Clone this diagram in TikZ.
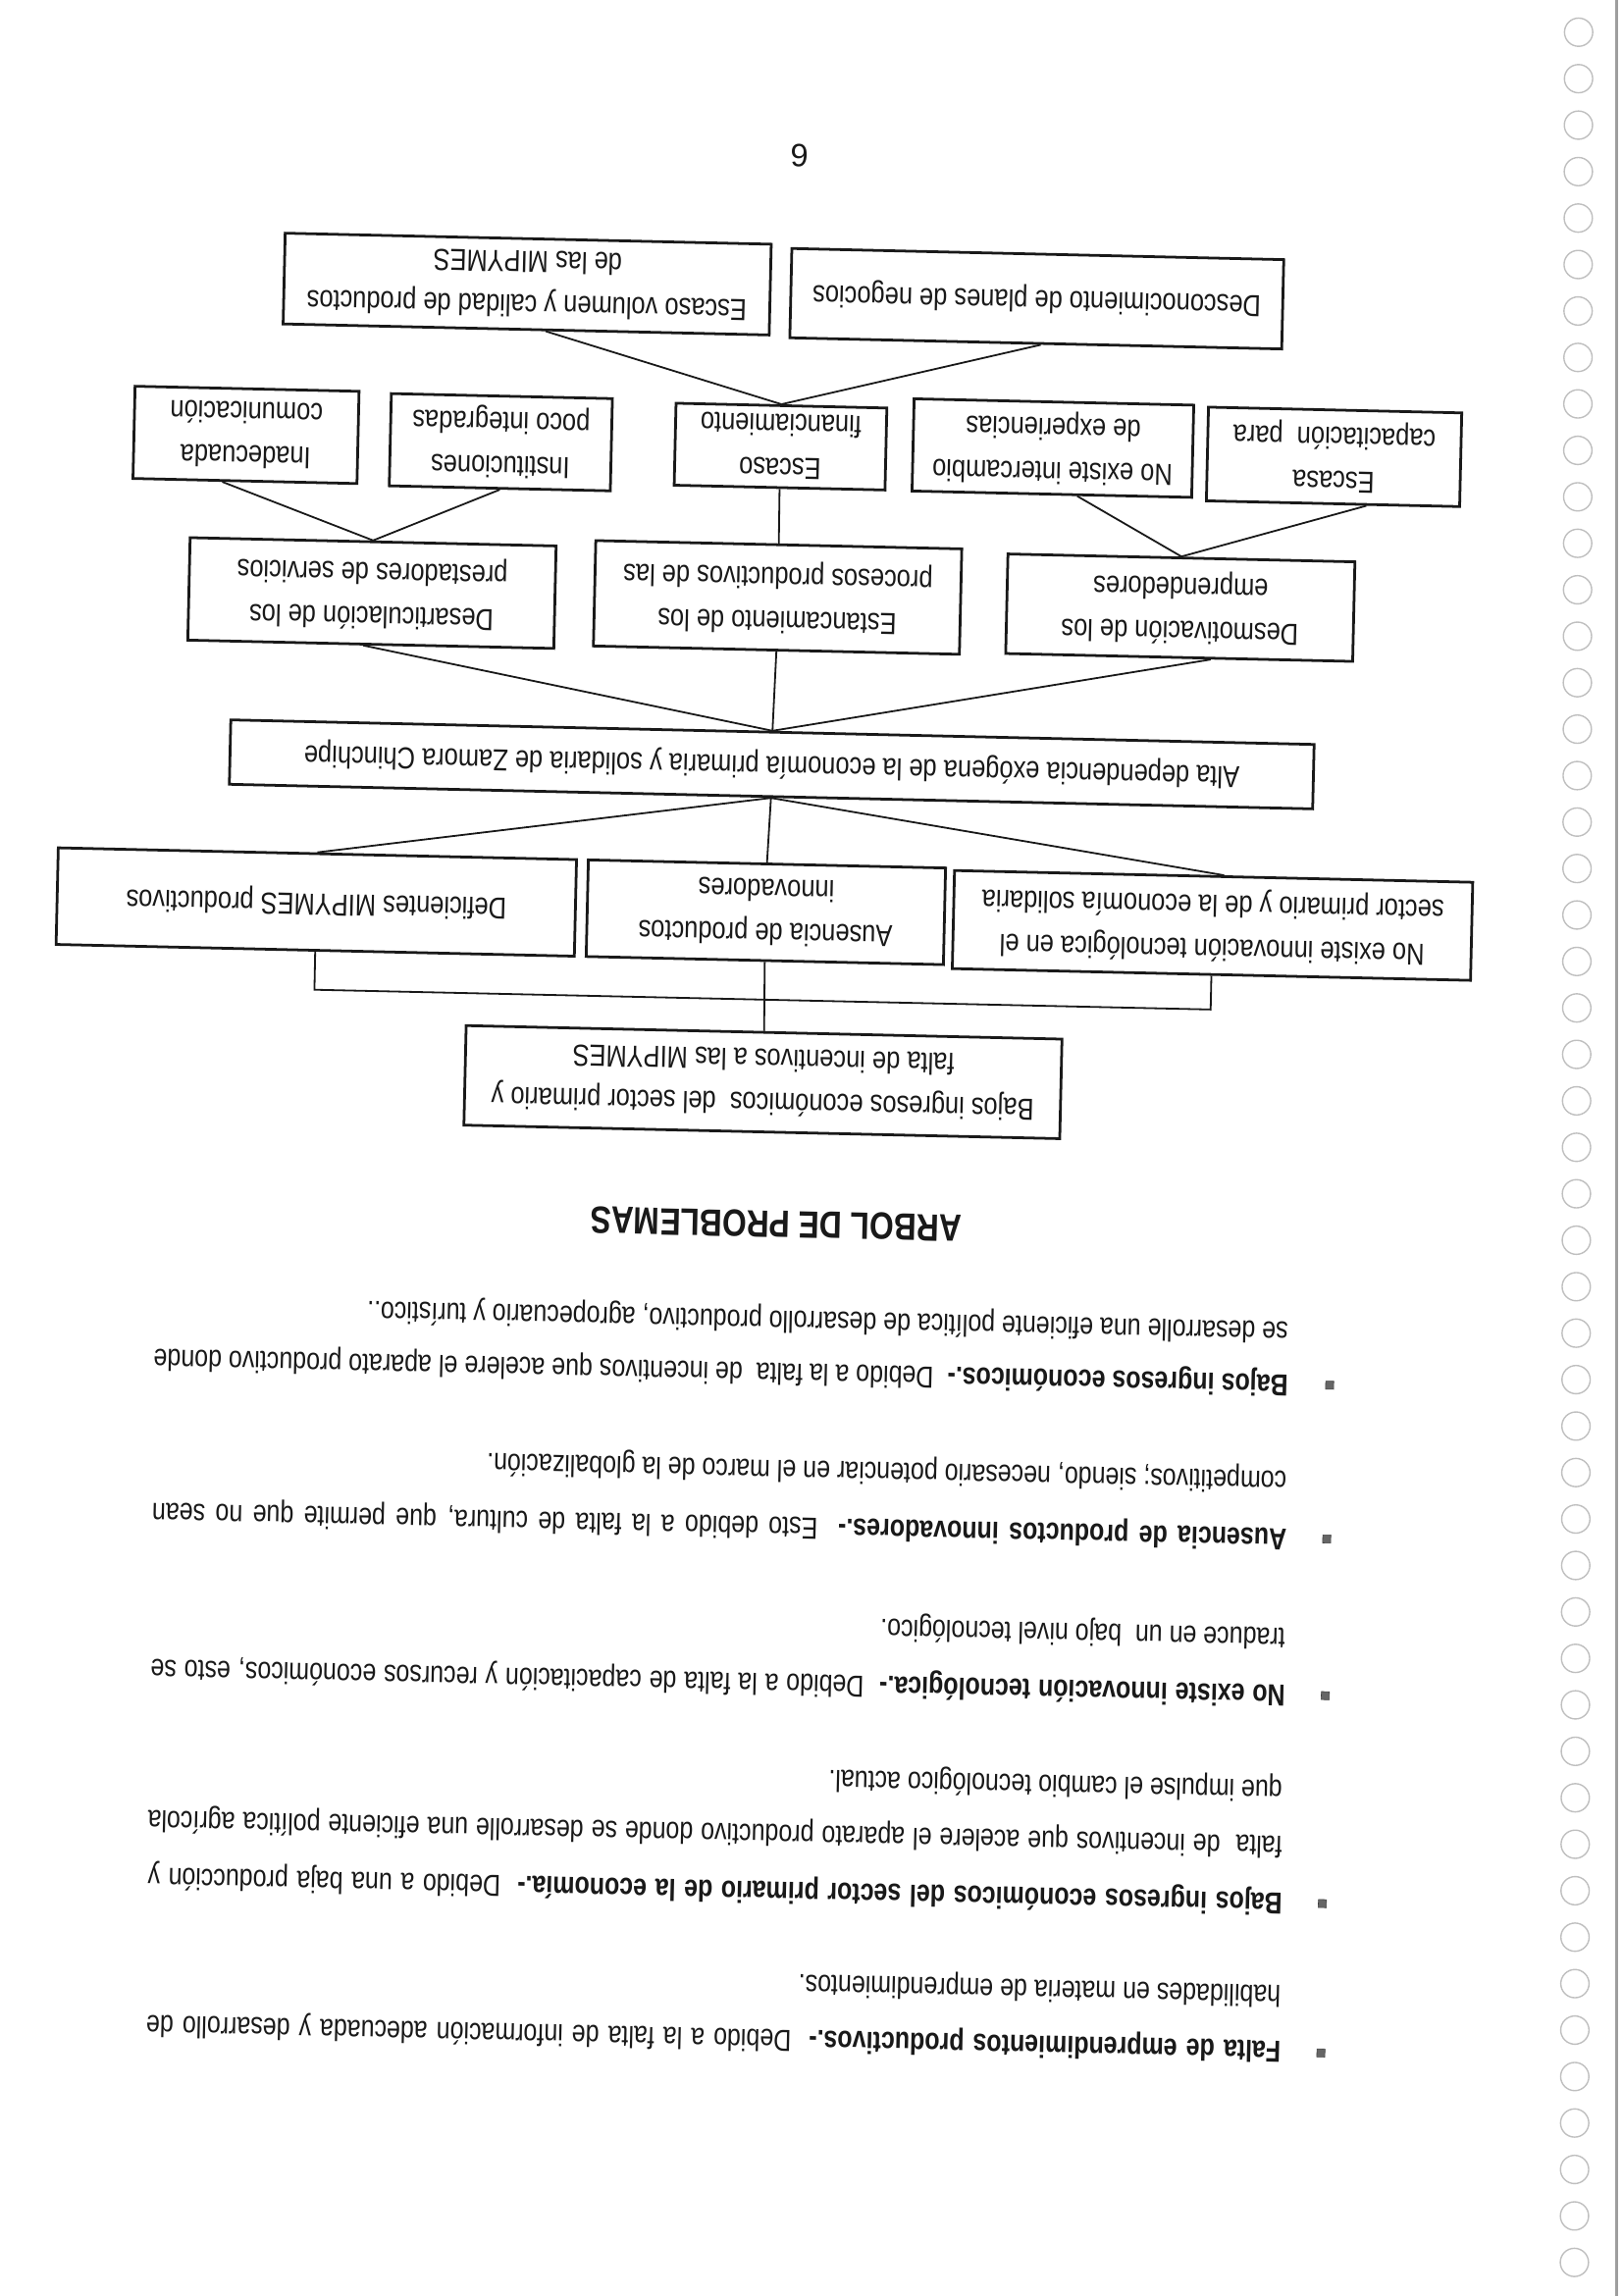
\documentclass[tikz,border=0pt]{standalone}
\usepackage{fontspec}
\setmainfont{Liberation Sans}
\newfontfamily\nar[FakeStretch=0.82]{Liberation Sans}
\newfontfamily\narb[FakeStretch=0.805]{Liberation Sans}
\usetikzlibrary{calc}
\newlength{\uu}
\setlength{\uu}{0.18953mm}
\def\tilt{178.7}
\begin{document}
\begin{tikzpicture}[x=0.18953mm, y=-0.18953mm,
  box/.style={draw=black!90, line width=1.0pt, rotate=\tilt, align=center, inner sep=0pt,
    text=black!90, font=\nar\fontsize{20.8\uu}{30\uu}\selectfont},
  conn/.style={line width=0.65pt, draw=black!90},
  txt/.style={rotate=\tilt, anchor=mid west, inner sep=0pt, text=black!90,
    font=\narb\fontsize{20.8\uu}{30\uu}\selectfont},
  bul/.style={rotate=\tilt, fill=black!60, draw=black!75, line width=0.2pt,
    minimum size=5.5\uu, inner sep=0pt},
  hole/.style={draw=black!25, line width=0.5pt},
]
\fill[white] (0,0) rectangle (1108,1568);
\useasboundingbox (0,0) rectangle (1108,1568);

% binding holes and page edge
\foreach \i in {0,...,48}
  \draw[hole] ({1078-0.06*\i},{22+31.73*\i}) circle[radius=5.2pt];
\draw[line width=1.1pt, black!38] (1104,0) -- (1104,1568);

% page number
\node[rotate=\tilt, inner sep=0pt, text=black!90, font=\fontsize{22\uu}{24\uu}\selectfont] (pg) at (546,106) {6};

% tree boxes
\node[box, minimum width=332\uu, minimum height=62\uu] (A1) at (360,194) {Escaso volumen y calidad de productos\\de las MIPYMES};
\node[box, minimum width=336\uu, minimum height=61\uu] (A2) at (708,204) {Desconocimiento de planes de negocios};

\node[box, minimum width=153\uu, minimum height=63\uu] (B1) at (168,297) {Inadecuada\\comunicación};
\node[box, minimum width=151\uu, minimum height=63\uu] (B2) at (342,302) {Instituciones\\poco integradas};
\node[box, minimum width=144\uu, minimum height=56\uu] (B3) at (533,305) {Escaso\\financiamiento};
\node[box, minimum width=191\uu, minimum height=63\uu] (B4) at (719,306) {No existe intercambio\\de experiencias};
\node[box, minimum width=173\uu, minimum height=64\uu] (B5) at (911,312) {Escasa\\capacitación\ \ para};

\node[box, minimum width=250\uu, minimum height=70\uu] (C1) at (254,405) {Desarticulación de los\\prestadores de servicios};
\node[box, minimum width=250\uu, minimum height=72\uu] (C2) at (531,408) {Estancamiento de los\\procesos productivos de las};
\node[box, minimum width=237\uu, minimum height=68\uu] (C3) at (806,415) {Desmotivación de los\\emprendedores};

\node[box, minimum width=740\uu, minimum height=44\uu] (D) at (527,522) {Alta dependencia exógena de la economía primaria y solidaria de Zamora Chinchipe};

\node[box, minimum width=354\uu, minimum height=66\uu] (E1) at (216,616) {Deficientes MIPYMES productivos};
\node[box, minimum width=244\uu, minimum height=66\uu] (E2) at (523,623) {Ausencia de productos\\innovadores};
\node[box, minimum width=354\uu, minimum height=67\uu] (E3) at (828,632) {No existe innovación tecnológica en el\\sector primario y de la economía solidaria};

\node[box, minimum width=407\uu, minimum height=68\uu] (F) at (521,739) {Bajos ingresos económicos\ \ del sector primario y\\falta de incentivos a las MIPYMES};

% connectors
\draw[conn] ($(A1.north west)!0.46!(A1.north east)$) -- (B3.south);
\draw[conn] ($(A2.north west)!0.49!(A2.north east)$) -- (B3.south);
\draw[conn] ($(B1.north west)!0.6!(B1.north east)$) -- (C1.south);
\draw[conn] (B2.north) -- (C1.south);
\draw[conn] (B3.north) -- (C2.south);
\draw[conn] ($(B4.north west)!0.41!(B4.north east)$) -- (C3.south);
\draw[conn] ($(B5.north west)!0.37!(B5.north east)$) -- (C3.south);
\draw[conn] ($(C1.north west)!0.52!(C1.north east)$) -- (D.south);
\draw[conn] (C2.north) -- (D.south);
\draw[conn] ($(C3.north west)!0.41!(C3.north east)$) -- (D.south);
\draw[conn] (D.north) -- (E1.south);
\draw[conn] (D.north) -- (E2.south);
\draw[conn] (D.north) -- ($(E3.south west)!0.48!(E3.south east)$);
\draw[conn] (E1.north) -- ++(-0.5,26) coordinate (bl) -- ($(E3.north)+(-0.5,23)$) coordinate (br) -- (E3.north);
\draw[conn] (E2.north) -- (F.south);

% title
\node[rotate=\tilt, inner sep=0pt, text=black!90, font=\nar\bfseries\fontsize{26\uu}{30\uu}\selectfont] (T) at (530,836) {ARBOL DE PROBLEMAS};

% paragraphs
\node[bul] (b1) at (908,946) {};
\node[txt] (p1a) at (880,944) {\makebox[775\uu][s]{\textbf{Bajos ingresos económicos.-}\ \ Debido a la falta\ \ de incentivos que acelere el aparato productivo donde}};
\node[txt] (p1b) at (880,908) {se desarrolle una eficiente política de desarrollo productivo, agropecuario y turístico..};

\node[bul] (b2) at (906,1051) {};
\node[txt] (p2a) at (879,1049) {\makebox[775\uu][s]{\textbf{Ausencia de productos innovadores.-}\ \ Esto debido a la falta de cultura, que permite que no sean}};
\node[txt] (p2b) at (879,1010) {competitivos; siendo, necesario potenciar en el marco de la globalización.};

\node[bul] (b3) at (905,1158) {};
\node[txt] (p3a) at (878,1156) {\makebox[775\uu][s]{\textbf{No existe innovación tecnológica.-}\ \ Debido a la falta de capacitación y recursos económicos, esto se}};
\node[txt] (p3b) at (878,1117) {traduce en un\ \ bajo nivel tecnológico.};

\node[bul] (b4) at (903,1300) {};
\node[txt] (p4a) at (876,1298) {\makebox[775\uu][s]{\textbf{Bajos ingresos económicos del sector primario de la economía.-}\ \ Debido a una baja producción y}};
\node[txt] (p4b) at (876,1259) {\makebox[775\uu][s]{falta\ \ de incentivos que acelere el aparato productivo donde se desarrolle una eficiente política agrícola}};
\node[txt] (p4c) at (876,1221) {que impulse el cambio tecnológico actual.};

\node[bul] (b5) at (902,1402) {};
\node[txt] (p5a) at (875,1399) {\makebox[775\uu][s]{\textbf{Falta de emprendimientos productivos.-}\ \ Debido a la falta de información adecuada y desarrollo de}};
\node[txt] (p5b) at (875,1361) {habilidades en materia de emprendimientos.};
\end{tikzpicture}
\end{document}
